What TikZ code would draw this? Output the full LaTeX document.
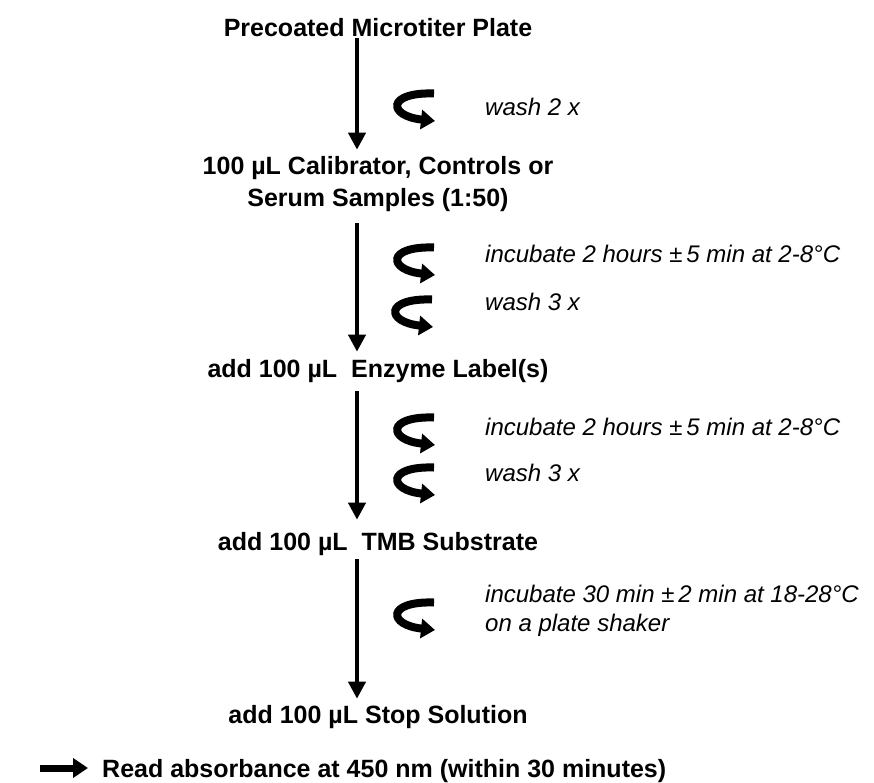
\documentclass[tikz,border=0pt]{standalone}
\usepackage{fontspec}
\setmainfont{Liberation Sans}
\usetikzlibrary{arrows.meta}
\begin{document}
\begin{tikzpicture}[x=1pt,y=-1pt,
  stepbox/.style={font=\fontsize{25}{30}\selectfont\bfseries, inner sep=0pt, anchor=base},
  note/.style={font=\fontsize{24}{29}\selectfont\itshape, inner sep=0pt, anchor=base west},
  flow/.style={line width=4pt, -{Triangle[length=17pt,width=17pt]}},
  curl/.pic={\draw[line width=8pt, -{Triangle[length=14pt,width=19pt]}]
      (41,4.5) .. controls (-7,3) and (-5,27) .. (42,32);}
]
\useasboundingbox (0,0) rectangle (874,783);
\coordinate (ax) at (357,0);

% main steps
\node[stepbox] (title) at (378,37) {Precoated Microtiter Plate};
\node[stepbox] (cal1) at (378,175) {100 µL Calibrator, Controls or};
\node[stepbox] (cal2) at (378,207) {Serum Samples (1:50)};
\node[stepbox] (enz) at (378,377) {add 100 µL\ \ Enzyme Label(s)};
\node[stepbox] (tmb) at (378,550) {add 100 µL\ \ TMB Substrate};
\node[stepbox] (stop) at (378,723) {add 100 µL Stop Solution};
\node[stepbox, anchor=base west] (read) at (102,777) {Read absorbance at 450 nm (within 30 minutes)};

% vertical flow arrows
\draw[flow, shorten <=1pt, shorten >=7pt] (title.south -| ax) -- (cal1.north -| ax);
\draw[flow, shorten <=11pt, shorten >=7pt] (cal2.south -| ax) -- (enz.north -| ax);
\draw[flow, shorten <=9pt, shorten >=12pt] (enz.south -| ax) -- (tmb.north -| ax);
\draw[flow, shorten <=4pt, shorten >=6pt] (tmb.south -| ax) -- (stop.north -| ax);

% read arrow
\coordinate (rs) at (40,768);
\draw[line width=7pt, -{Triangle[length=15pt,width=19pt]}, shorten >=14pt] (rs) -- (read.west |- rs);

% curl icons
\pic (c1) at (393,89) {curl};
\pic (c2) at (393,243) {curl};
\pic (c3) at (391,295) {curl};
\pic (c4) at (393,413) {curl};
\pic (c5) at (393,463) {curl};
\pic (c6) at (393,598) {curl};

% notes
\node[note] (n1) at (485,116) {wash 2 x};
\node[note] (n2) at (485,263) {incubate 2 hours ±\,5 min at 2-8°C};
\node[note] (n3) at (485,310) {wash 3 x};
\node[note] (n4) at (485,435) {incubate 2 hours ±\,5 min at 2-8°C};
\node[note] (n5) at (485,481) {wash 3 x};
\node[note] (n6) at (485,602) {incubate 30 min ±\,2 min at 18-28°C};
\node[note] (n7) at (485,631) {on a plate shaker};
\end{tikzpicture}
\end{document}
